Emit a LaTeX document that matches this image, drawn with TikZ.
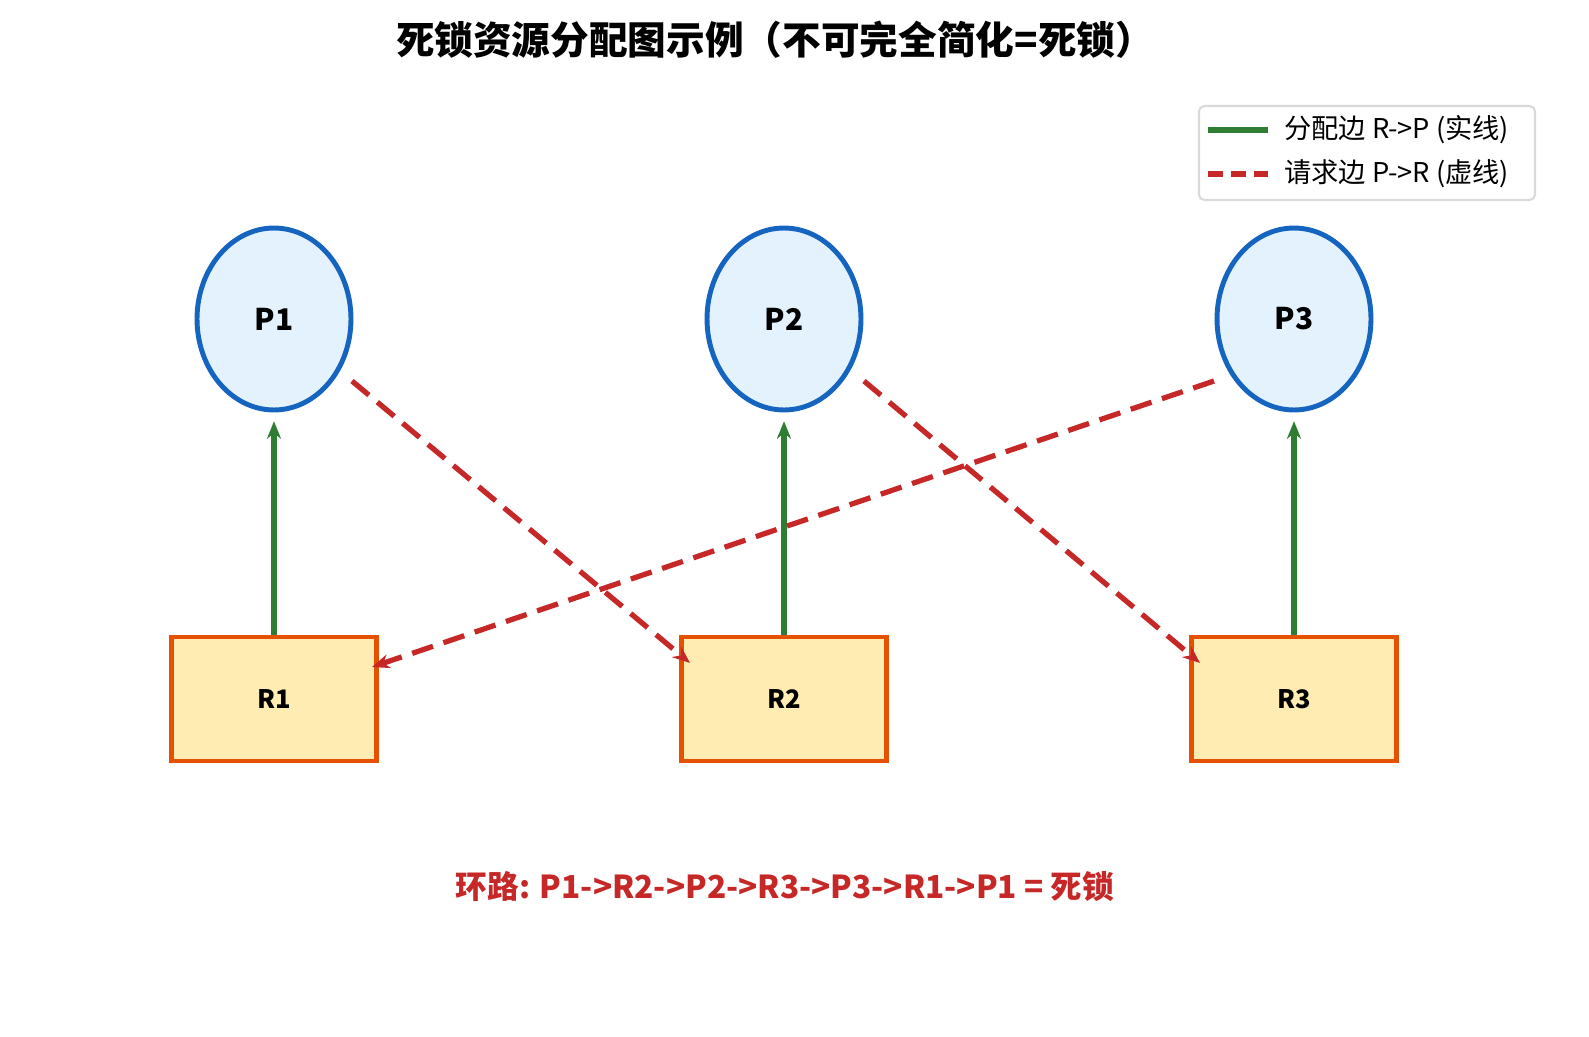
\documentclass[tikz,border=0pt]{standalone}
\usepackage{fontspec}
\setmainfont{Noto Sans CJK SC}
\usetikzlibrary{positioning, shapes.geometric, arrows.meta}
\definecolor{procblue}{HTML}{1565C0}
\definecolor{procfill}{HTML}{E3F2FD}
\definecolor{resorange}{HTML}{E65100}
\definecolor{resfill}{HTML}{FFECB3}
\definecolor{allocgreen}{HTML}{2E7D32}
\definecolor{reqred}{HTML}{C62828}
\tikzset{
	proc/.style={ellipse, draw=procblue, fill=procfill, line width=2.8pt, minimum width=3.08cm, minimum height=3.64cm, font=\bfseries\fontsize{17}{20}\selectfont},
	res/.style={rectangle, draw=resorange, fill=resfill, line width=2.8pt, minimum width=4.1cm, minimum height=2.48cm, font=\bfseries\fontsize{14.5}{17}\selectfont},
	alloc/.style={-{Stealth[length=10pt, width=8pt]}, draw=allocgreen, line width=3pt},
	request/.style={-{Stealth[length=10pt, width=8pt]}, draw=reqred, line width=3pt, dash pattern=on 0.44cm off 0.22cm},
}
\begin{document}
\begin{tikzpicture}[x=0.02cm, y=-0.02cm]
	\useasboundingbox (0,0) rectangle (1589,1037);
	
	\node (title) at (775,40) {\bfseries\fontsize{22}{26}\selectfont 死锁资源分配图示例（不可完全简化=死锁）};
	
	% processes and resources
	\node[proc] (P1) at (274,319) {P1};
	\node[proc] (P2) at (784,319) {P2};
	\node[proc] (P3) at (1294,319) {P3};
	\node[res] (R1) at (274,699) {R1};
	\node[res] (R2) at (784,699) {R2};
	\node[res] (R3) at (1294,699) {R3};
	
	% allocation edges
	\foreach \i in {1,2,3}
		\draw[alloc, shorten >=5pt] (R\i.north) -- (P\i.south);
	
	% request edges
	\coordinate (P1out) at (352,381);
	\coordinate (R2in) at (690,663);
	\coordinate (P2out) at (864,381);
	\coordinate (R3in) at (1200,663);
	\coordinate (P3out) at (1214,381);
	\coordinate (R1in) at (372,667);
	\draw[request] (P1out) -- (R2in);
	\draw[request] (P2out) -- (R3in);
	\draw[request] (P3out) -- (R1in);
	
	% legend
	\node[draw=black!15, line width=1.2pt, rounded corners=3pt, minimum width=6.72cm, minimum height=1.88cm] (legend) at (1367,153) {};
	\coordinate (g1) at (1208,130);
	\coordinate (g2) at (1268,130);
	\coordinate (r1) at (1208,174);
	\coordinate (r2) at (1268,174);
	\draw[draw=allocgreen, line width=3pt] (g1) -- (g2);
	\draw[draw=reqred, line width=3pt, dash pattern=on 0.3cm off 0.16cm] (r1) -- (r2);
	\node[anchor=west, font=\fontsize{15.5}{18}\selectfont] (galloc) at (1278,130) {分配边 R->P (实线)};
	\node[anchor=west, font=\fontsize{15.5}{18}\selectfont] (greq) at (1278,174) {请求边 P->R (虚线)};
	
	\node[text=reqred, font=\bfseries\fontsize{18}{22}\selectfont] (cycle) at (785,887) {环路: P1->R2->P2->R3->P3->R1->P1 = 死锁};
\end{tikzpicture}
\end{document}
